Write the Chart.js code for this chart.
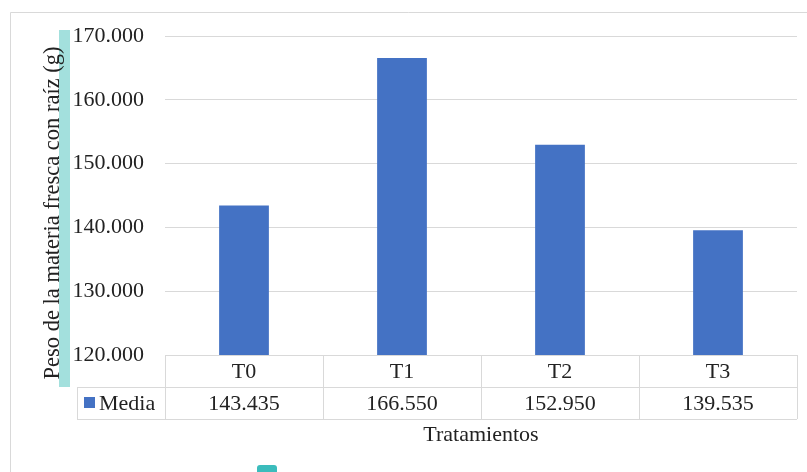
<!DOCTYPE html>
<html>
<head>
<meta charset="utf-8">
<script src="https://cdn.jsdelivr.net/npm/chart.js@4"></script>
<style>
  html, body { margin: 0; padding: 0; background: #fff; }
  #wrap { width: 807px; height: 472px; position: relative; }
  .preload { position: absolute; left: -999px; top: 0; font-family: 'Liberation Serif'; font-size: 22px; }
</style>
</head>
<body>
<span class="preload">170.000 Peso raíz</span>
<div id="wrap"><canvas id="chart"></canvas></div>
<script>
const categories = ["T0", "T1", "T2", "T3"];
const media = [143.435, 166.55, 152.95, 139.535];
const seriesName = "Media";
const yTitle = "Peso de la materia fresca con raíz (g)";
const xTitle = "Tratamientos";

const FONT = "'Liberation Serif', serif";
const SIZE = 22;
const TEXT = "#222222";
const LINE = "#d9d9d9";
const BLUE = "#4472c4";

function fmt(v) {
  return Number(v).toFixed(3);
}

// frame, the data table under the bars and the rotated y title
const tablePlugin = {
  id: "dataTable",
  beforeDraw(chart) {
    const ctx = chart.ctx;
    ctx.save();
    ctx.fillStyle = "#fff";
    ctx.fillRect(0, 0, chart.width, chart.height);
    // outer frame (top and left only are visible)
    ctx.strokeStyle = LINE;
    ctx.lineWidth = 1;
    ctx.beginPath();
    ctx.moveTo(10.5, chart.height);
    ctx.lineTo(10.5, 12.5);
    ctx.lineTo(chart.width, 12.5);
    ctx.stroke();
    // cyan marker strip behind the axis title
    ctx.fillStyle = "#a3e0dd";
    ctx.fillRect(59, 30, 11, 357);
    ctx.fillStyle = "#3bbcbc";
    ctx.beginPath();
    ctx.roundRect(257, 465, 20, 10, 3);
    ctx.fill();
    ctx.restore();
  },
  afterDraw(chart) {
    const ctx = chart.ctx;
    const x = chart.scales.x;
    const area = chart.chartArea;
    const rowH = 32.3;
    const top = Math.round(area.bottom);
    const mid = Math.round(top + rowH);
    const bot = Math.round(mid + rowH);
    const step = (area.right - area.left) / categories.length;
    const labelLeft = 77;

    ctx.save();
    ctx.strokeStyle = LINE;
    ctx.lineWidth = 1;
    ctx.beginPath();
    ctx.moveTo(area.left, top + 0.5);
    ctx.lineTo(area.right, top + 0.5);
    ctx.moveTo(labelLeft, mid + 0.5);
    ctx.lineTo(area.right, mid + 0.5);
    ctx.moveTo(labelLeft, bot + 0.5);
    ctx.lineTo(area.right, bot + 0.5);
    ctx.moveTo(labelLeft + 0.5, mid);
    ctx.lineTo(labelLeft + 0.5, bot);
    for (let i = 0; i <= categories.length; i++) {
      const px = Math.round(area.left + i * step) + 0.5;
      ctx.moveTo(px, top);
      ctx.lineTo(px, bot);
    }
    ctx.stroke();

    ctx.fillStyle = TEXT;
    ctx.font = SIZE + "px " + FONT;
    ctx.textAlign = "center";
    ctx.textBaseline = "middle";
    categories.forEach((c, i) => {
      const cx = x.getPixelForValue(i);
      ctx.fillText(c, cx, (top + mid) / 2 + 1);
      ctx.fillText(fmt(media[i]), cx, (mid + bot) / 2 + 1);
    });

    // legend key in the table
    ctx.fillStyle = BLUE;
    ctx.fillRect(84, mid + 10, 11, 11);
    ctx.fillStyle = TEXT;
    ctx.textAlign = "left";
    ctx.fillText(seriesName, 99, (mid + bot) / 2 + 1);

    // y axis title
    ctx.font = "22.5px " + FONT;
    ctx.translate(53, 213);
    ctx.rotate(-Math.PI / 2);
    ctx.textAlign = "center";
    ctx.fillText(yTitle, 0, 0);
    ctx.restore();
  }
};

Chart.defaults.font.family = FONT;

new Chart(document.getElementById("chart"), {
  type: "bar",
  data: {
    labels: categories,
    datasets: [{
      label: seriesName,
      data: media,
      backgroundColor: BLUE,
      borderWidth: 0,
      categoryPercentage: 0.315,
      barPercentage: 1
    }]
  },
  options: {
    responsive: true,
    maintainAspectRatio: false,
    animation: false,
    layout: { padding: { left: 10, top: 36, right: 10, bottom: 0 } },
    plugins: {
      legend: { display: false },
      tooltip: { enabled: false }
    },
    scales: {
      x: {
        grid: { display: false, drawTicks: false },
        border: { display: false },
        ticks: { display: false },
        title: {
          display: true,
          text: xTitle,
          color: TEXT,
          font: { family: FONT, size: SIZE },
          padding: { top: 0, bottom: 24 }
        },
        afterFit: (s) => { s.height = 117; }
      },
      y: {
        min: 120,
        max: 170,
        grid: { color: LINE, lineWidth: 1, drawTicks: false },
        border: { display: false },
        ticks: {
          stepSize: 10,
          padding: 21,
          color: TEXT,
          font: { family: FONT, size: SIZE },
          callback: (v) => fmt(v)
        },
        afterFit: (s) => { s.width = 155; }
      }
    }
  },
  plugins: [tablePlugin]
});
</script>
</body>
</html>
